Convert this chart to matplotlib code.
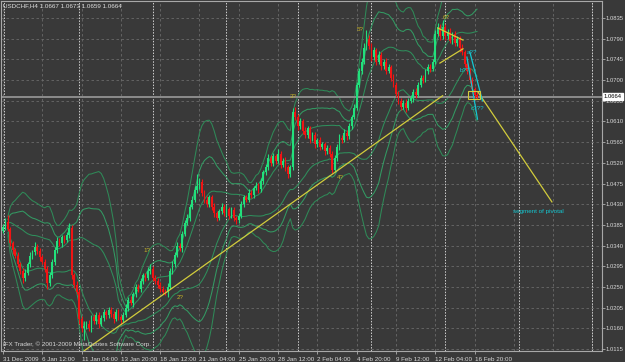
import numpy as np
import pandas as pd
import matplotlib
matplotlib.use("Agg")
import matplotlib.pyplot as plt
from matplotlib.patches import Rectangle
from matplotlib.transforms import blended_transform_factory

plt.rcParams['font.family'] = ['Liberation Sans', 'DejaVu Sans']
FS = 4.5
FS_Y = 4.2

# ---- data (prices in pips, 1.0000 = 10000), one H4 bar per entry ----
closes = [
    10380, 10392, 10375, 10345, 10330, 10318, 10300, 10285, 10270, 10280,
    10300, 10318, 10325, 10338, 10328, 10315, 10305, 10290, 10258, 10275,
    10305, 10330, 10350, 10345, 10358, 10352, 10362, 10378, 10275, 10255,
    10240, 10180, 10160, 10165, 10170, 10160, 10185, 10175, 10190, 10170,
    10182, 10195, 10188, 10200, 10192, 10180, 10195, 10185, 10178, 10190,
    10205, 10222, 10215, 10235, 10250, 10245, 10262, 10275, 10270, 10285,
    10290, 10270, 10262, 10255, 10245, 10240, 10238, 10250, 10285, 10300,
    10320, 10340, 10335, 10365, 10390, 10400, 10425, 10440, 10460, 10470,
    10478, 10455, 10440, 10430, 10445, 10425, 10410, 10400, 10415, 10425,
    10410, 10420, 10405, 10418, 10400, 10395, 10405, 10430, 10445, 10440,
    10455, 10450, 10465, 10470, 10462, 10480, 10500, 10510, 10530, 10520,
    10535, 10525, 10540, 10515, 10525, 10510, 10495, 10510, 10630, 10620,
    10600, 10610, 10590, 10580, 10595, 10572, 10580, 10560, 10570, 10555,
    10560, 10545, 10552, 10540, 10505, 10530, 10555, 10575, 10570, 10585,
    10578, 10600, 10620, 10640, 10690, 10720, 10740, 10770, 10790, 10775,
    10750, 10765, 10740, 10755, 10730, 10740, 10720, 10728, 10705, 10690,
    10670, 10655, 10642, 10650, 10640, 10655, 10660, 10675, 10668, 10690,
    10705, 10700, 10720, 10728, 10725, 10740, 10800, 10815, 10795, 10815,
    10795, 10805, 10785, 10800, 10780, 10790, 10770, 10760, 10735, 10720,
    10700, 10680, 10667, 10664]

upper_wick = [
    6, 8, 15, 5, 6, 4, 7, 5, 6, 8,
    5, 7, 6, 9, 5, 6, 4, 5, 6, 8,
    5, 6, 8, 7, 6, 5, 8, 11, 6, 5,
    8, 6, 7, 10, 6, 8, 5, 7, 6, 5,
    8, 6, 5, 7, 6, 5, 6, 8, 5, 6,
    7, 6, 8, 5, 6, 7, 8, 6, 5, 9,
    10, 6, 5, 7, 5, 6, 5, 8, 6, 7,
    5, 8, 6, 7, 6, 8, 5, 7, 9, 25,
    8, 6, 5, 7, 6, 5, 8, 6, 5, 7,
    6, 8, 5, 6, 7, 5, 6, 8, 6, 5,
    7, 6, 5, 8, 6, 7, 5, 8, 10, 6,
    7, 5, 9, 6, 5, 7, 5, 6, 10, 12,
    6, 8, 5, 7, 6, 5, 8, 6, 5, 7,
    6, 5, 7, 6, 5, 8, 6, 7, 5, 8,
    6, 7, 5, 8, 6, 7, 9, 10, 18, 8,
    6, 7, 5, 8, 6, 5, 7, 6, 5, 8,
    6, 7, 5, 6, 8, 5, 7, 6, 8, 5,
    6, 7, 5, 6, 8, 5, 8, 10, 6, 16,
    7, 6, 8, 5, 7, 6, 5, 8, 6, 5,
    7, 6, 5, 6]

lower_wick = [
    5, 7, 4, 6, 8, 5, 6, 7, 12, 6,
    5, 6, 7, 5, 6, 8, 5, 7, 12, 6,
    5, 7, 6, 5, 8, 6, 5, 6, 7, 8,
    6, 10, 8, 25, 7, 6, 8, 5, 6, 9,
    6, 5, 8, 6, 7, 9, 5, 6, 8, 5,
    6, 7, 5, 8, 6, 5, 7, 6, 8, 5,
    6, 7, 6, 8, 7, 5, 6, 10, 5, 6,
    7, 5, 6, 8, 5, 6, 7, 5, 6, 5,
    6, 8, 7, 5, 6, 8, 7, 6, 5, 7,
    6, 5, 8, 6, 7, 9, 6, 5, 7, 6,
    5, 7, 6, 5, 8, 6, 5, 7, 5, 6,
    7, 8, 6, 7, 5, 8, 9, 6, 5, 7,
    8, 6, 7, 5, 6, 8, 5, 7, 6, 8,
    6, 7, 5, 8, 8, 6, 5, 7, 6, 5,
    8, 6, 7, 5, 6, 5, 7, 6, 5, 7,
    8, 6, 7, 5, 8, 6, 7, 5, 8, 6,
    7, 6, 8, 5, 9, 6, 5, 7, 6, 5,
    6, 7, 5, 6, 8, 5, 6, 5, 7, 6,
    8, 6, 5, 7, 6, 5, 8, 6, 7, 6,
    7, 8, 6, 5]
first_open = 10372

date_labels = ["31 Dec 2009", "6 Jan 12:00", "11 Jan 04:00", "13 Jan 20:00",
               "18 Jan 12:00", "21 Jan 04:00", "25 Jan 20:00", "28 Jan 12:00",
               "2 Feb 04:00", "4 Feb 20:00", "9 Feb 12:00", "12 Feb 04:00",
               "16 Feb 20:00"]
week_separators = [0.5, 31, 61, 91, 120, 150, 180, 210, 240]
price_ticks = [10115 + 45 * k for k in range(17)]
last_price = 10664

# hand-drawn objects: (bar, price) endpoints
trend_main = [(33, 10111), (179, 10666)]
trend_proj = [(193.4, 10674), (223.5, 10435)]
tri_upper = [(177.1, 10813), (187.3, 10787)]
tri_lower = [(177.9, 10737), (187.3, 10768)]
cyan_lines = [[(190.1, 10761), (195.2, 10655)], [(188.9, 10750), (193.2, 10615)]]
box = (189.4, 10658, 4.8, 19)
wave_labels = [("1?", 57, 10330), ("2?", 70.8, 10226), ("3?", 116.9, 10665),
               ("4?", 136, 10489), ("5?", 144.1, 10811), ("6?", 179.2, 10837)]
abc_labels = [("a??", 189.0, 10759), ("b??", 185.8, 10720), ("c???", 190.6, 10639)]

# ---- figure ----
bg = '#393939'
fig = plt.figure(figsize=(6.25, 3.62), dpi=100, facecolor=bg)
ax = fig.add_axes([1.5 / 625, 1 - 351 / 362, 600.5 / 625, 350 / 362], facecolor=bg)
ax.set_xlim(-0.61, 243.9)
ax.set_ylim(10110.7, 10872)

# grid
for p in price_ticks:
    ax.axhline(p, color='#6a6a6a', lw=0.6, ls=(0, (3, 3)), zorder=0)
for k in range(0, 250, 16):
    ax.axvline(k, color='#6a6a6a', lw=0.6, ls=(0, (3, 3)), zorder=0)
for w in week_separators:
    ax.axvline(w, color='#d0d0d0', lw=0.7, ls=(0, (1.5, 1.5)), zorder=0)

# bollinger envelopes
s = pd.Series(closes, dtype=float)
mid = s.rolling(20, min_periods=3).mean()
sd = s.rolling(20, min_periods=3).std(ddof=0)
idx = np.arange(len(closes))
for d, c in [(1, '#2f8f5c'), (2, '#339a63'), (3, '#2f8a58')]:
    ax.plot(idx, mid + d * sd, color=c, lw=0.75, zorder=1)
    ax.plot(idx, mid - d * sd, color=c, lw=0.75, zorder=1)

# current price line
ax.axhline(last_price, color='#8c8c8c', lw=1.4, zorder=1)

# candles
c = np.array(closes, dtype=float)
o = np.concatenate([[first_open], c[:-1]])
hi = np.maximum(o, c) + np.array(upper_wick)
lo = np.minimum(o, c) - np.array(lower_wick)
bull = c >= o
colors = np.where(bull, '#22e07c', '#f01414')
ax.vlines(idx, lo, hi, colors=colors, lw=0.8, zorder=2)
body = np.maximum(np.abs(c - o), 1.5)
ax.bar(idx, body, bottom=np.minimum(o, c), width=0.72, color=colors, lw=0, zorder=3)

# drawn objects
yel = '#d2cc3c'
for (x0, y0), (x1, y1) in [trend_main, trend_proj, tri_upper, tri_lower]:
    ax.plot([x0, x1], [y0, y1], color=yel, lw=0.9, zorder=4)
for (x0, y0), (x1, y1) in cyan_lines:
    ax.plot([x0, x1], [y0, y1], color='#14c8d2', lw=0.9, zorder=4)
ax.add_patch(Rectangle(box[:2], box[2], box[3], fill=False, ec=yel, lw=0.8, zorder=4))
for t, x, y in wave_labels:
    ax.text(x, y, t, color='#c8b428', fontsize=FS, ha='left', va='center', zorder=5)
for t, x, y in abc_labels:
    ax.text(x, y, t, color='#14c8d2', fontsize=FS, ha='left', va='center', zorder=5)
ax.text(207.7, 10415, "segment of pivotal", color='#14c8d2', fontsize=FS,
        ha='left', va='center', zorder=5)

# axes styling
for sp in ax.spines.values():
    sp.set_color('#a8a8a8')
    sp.set_linewidth(0.8)
ax.yaxis.tick_right()
ax.set_yticks(price_ticks)
ax.set_yticklabels([f"{p / 10000:.4f}" for p in price_ticks])
ax.set_xticks(range(0, 16 * len(date_labels), 16))
ax.set_xticklabels(date_labels)
for lab in ax.get_xticklabels():
    lab.set_horizontalalignment('left')
ax.tick_params(axis='x', colors='#b0b0b0', labelcolor='#d8d8d8', labelsize=FS,
               length=2.5, width=0.6, pad=1.5)
ax.tick_params(axis='y', colors='#b0b0b0', labelcolor='#d8d8d8', labelsize=FS_Y,
               length=2, width=0.6, pad=0.8)

tr = blended_transform_factory(ax.transAxes, ax.transData)
ax.text(1.003, last_price, f"{last_price / 10000:.4f}", transform=tr, fontsize=FS_Y,
        color='black', ha='left', va='center', clip_on=False, zorder=10,
        bbox=dict(boxstyle='square,pad=0.2', fc='white', ec='white'))

fig.text(3 / 625, 1 - 6 / 362, "USDCHF,H4 1.0667 1.0673 1.0659 1.0664",
         color='#e0e0e0', fontsize=FS, ha='left', va='center')
fig.text(3 / 625, 1 - 344 / 362, "IFX Trader, \u00a9 2001-2009 MetaQuotes Software Corp.",
         color='#d8d8d8', fontsize=FS, ha='left', va='center')

fig.savefig("out.png", dpi=100, facecolor=bg)
